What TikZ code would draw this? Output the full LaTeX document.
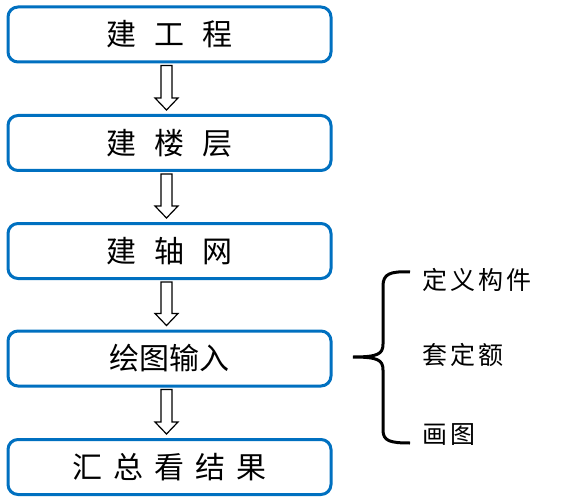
\documentclass[tikz,border=0pt]{standalone}
\usepackage{fontspec}
\newfontfamily\cjk{Noto Sans CJK SC}
\usetikzlibrary{calc}
\definecolor{boxblue}{RGB}{0,112,192}
\tikzset{
  stepbox/.style={draw=boxblue, line width=3pt, rounded corners=10pt, fill=white,
    minimum width=323pt, minimum height=55pt, inner sep=0pt,
    font=\cjk\fontsize{30}{32}\selectfont},
  hollow/.style={draw=black, line width=1.2pt, fill=white, line join=miter},
  bracestyle/.style={draw=black, line width=3pt},
  sidetext/.style={anchor=west, inner sep=0pt, font=\cjk\fontsize{25}{27}\selectfont}
}
\newcommand{\harrow}[2]{%
  \draw[hollow] ($(#1.south)+(-8.5,2)$) -- ($(#2.north)+(-8.5,-16)$) -- ($(#2.north)+(-14.5,-16)$)
    -- ($(#2.north)+(-3,-4)$) -- ($(#2.north)+(8.5,-16)$) -- ($(#2.north)+(2.5,-16)$)
    -- ($(#1.south)+(2.5,2)$) -- cycle;}
\begin{document}
\begin{tikzpicture}[x=1pt,y=-1pt]
\useasboundingbox (0,0) rectangle (565,500);
\node[stepbox] (b1) at (169.5,34.5) {建\hspace{18pt}工\hspace{18pt}程};
\node[stepbox] (b2) at (169.5,143) {建\hspace{18pt}楼\hspace{18pt}层};
\node[stepbox] (b3) at (169.5,251) {建\hspace{18pt}轴\hspace{18pt}网};
\node[stepbox] (b4) at (169.5,358.5) {绘图输入};
\node[stepbox] (b5) at (169.5,467) {汇\hspace{11pt}总\hspace{11pt}看\hspace{11pt}结\hspace{11pt}果};
\harrow{b1}{b2}
\harrow{b2}{b3}
\harrow{b3}{b4}
\harrow{b4}{b5}
\draw[bracestyle] (410,272) .. controls (390,271) and (383,274) .. (383,286) -- (383,344)
  .. controls (383,354) and (378,357) .. (353,357)
  .. controls (378,357) and (383,360) .. (383,370) -- (383,430)
  .. controls (383,441) and (390,443) .. (410,443);
\node[sidetext] (t1) at (422,280) {定\hspace{3pt}义\hspace{3pt}构\hspace{3pt}件};
\node[sidetext] (t2) at (422,355) {套\hspace{3pt}定\hspace{3pt}额};
\node[sidetext] (t3) at (422,435) {画\hspace{3pt}图};
\end{tikzpicture}
\end{document}
